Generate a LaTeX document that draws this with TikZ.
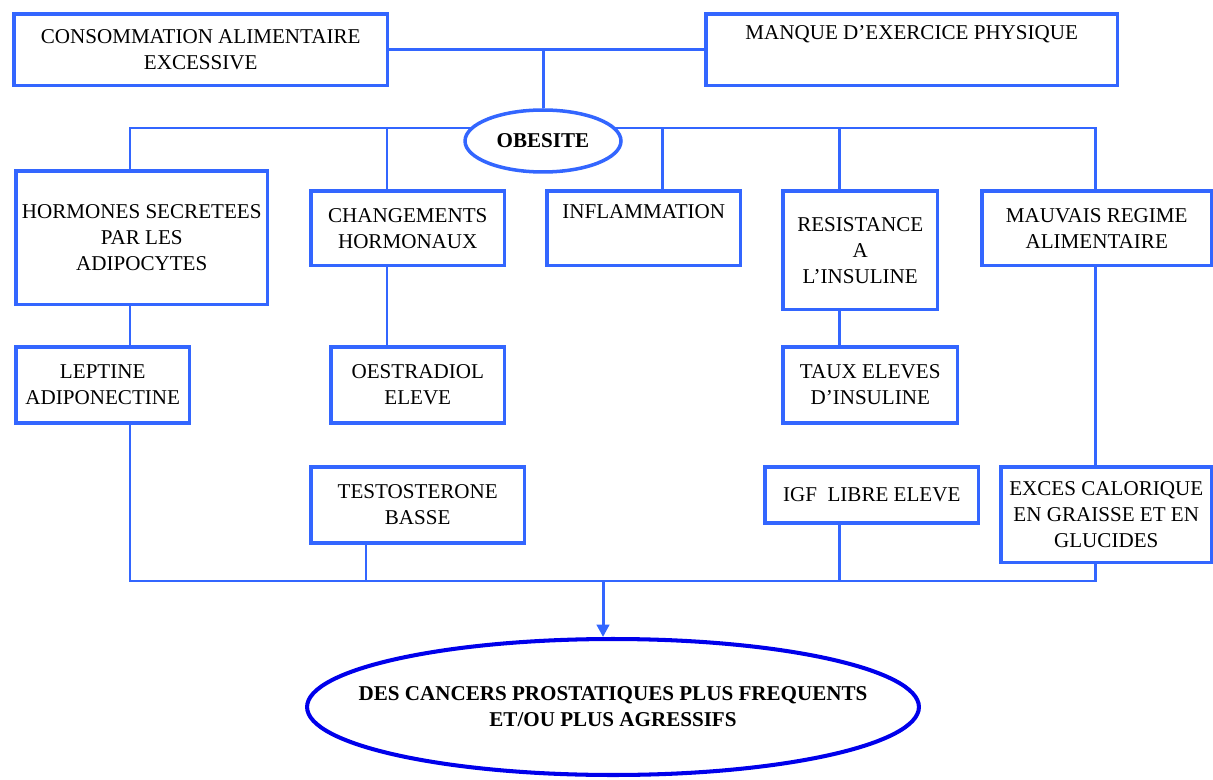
\documentclass[tikz,border=0pt]{standalone}
\usepackage{fontspec}
\setmainfont{Liberation Serif}
\usetikzlibrary{shapes.geometric,arrows.meta}
\definecolor{boxblue}{RGB}{51,102,255}
\definecolor{deepblue}{RGB}{0,0,235}
\tikzset{
  box/.style={draw=boxblue, line width=2pt, anchor=north west, align=center,
    inner sep=0.5pt, font=\fontsize{12}{14.8}\selectfont},
  oval/.style={ellipse, draw=boxblue, line width=2pt, fill=white, inner sep=0pt,
    align=center, font=\fontsize{12}{14.8}\selectfont\bfseries},
  link/.style={draw=boxblue, line width=1.7pt},
}
\begin{document}
\begin{tikzpicture}[x=0.02cm, y=-0.02cm]
  \useasboundingbox (0,0) rectangle (1213,780);
  \node[box, minimum width=7.48cm, minimum height=1.44cm] (cons) at (12,12)
    {CONSOMMATION ALIMENTAIRE\\EXCESSIVE};
  \node[box, minimum width=8.24cm, minimum height=1.44cm] (manque) at (704,12)
    {MANQUE D’EXERCICE PHYSIQUE\\\strut};
  \node[box, minimum width=5.04cm, minimum height=2.68cm] (hormones) at (14,169)
    {HORMONES SECRETEES\\PAR LES\\ADIPOCYTES};
  \node[box, minimum width=3.88cm, minimum height=1.5cm] (changements) at (309,189)
    {CHANGEMENTS\\HORMONAUX};
  \node[box, minimum width=3.88cm, minimum height=1.5cm] (inflammation) at (545,189)
    {INFLAMMATION\\\strut};
  \node[box, minimum width=3.1cm, minimum height=2.38cm] (resistance) at (781,189)
    {RESISTANCE\\A\\L’INSULINE};
  \node[box, minimum width=4.6cm, minimum height=1.5cm] (mauvais) at (980,189)
    {MAUVAIS REGIME\\ALIMENTAIRE};
  \node[box, minimum width=3.48cm, minimum height=1.52cm] (leptine) at (14,345)
    {LEPTINE\\ADIPONECTINE};
  \node[box, minimum width=3.48cm, minimum height=1.52cm] (oestradiol) at (329,345)
    {OESTRADIOL\\ELEVE};
  \node[box, minimum width=3.5cm, minimum height=1.52cm] (taux) at (781,345)
    {TAUX ELEVES\\D’INSULINE};
  \node[box, minimum width=4.28cm, minimum height=1.52cm] (testosterone) at (309,465)
    {TESTOSTERONE\\BASSE};
  \node[box, minimum width=4.28cm, minimum height=1.12cm] (igf) at (763,465)
    {IGF~ LIBRE ELEVE};
  \node[box, minimum width=4.22cm, minimum height=1.92cm] (exces) at (999,465)
    {EXCES CALORIQUE\\EN GRAISSE ET EN\\GLUCIDES};
  \node[oval, draw=deepblue, line width=2.3pt, inner xsep=-0.87cm,
    minimum width=12.24cm, minimum height=2.72cm] (cancer) at (613,707)
    {DES CANCERS PROSTATIQUES PLUS FREQUENTS\\ET/OU PLUS AGRESSIFS};
  \coordinate (t1) at (130,128);
  \coordinate (t2) at (387,128);
  \coordinate (t3) at (662,128);
  \coordinate (t4) at (839,128);
  \coordinate (t5) at (1095,128);
  \coordinate (b1) at (130,581);
  \coordinate (b2) at (366,581);
  \coordinate (b3) at (603,581);
  \coordinate (b4) at (839,581);
  \coordinate (b5) at (1095,581);
  \draw[link] (t1 |- hormones.north) -- (t1) -- (t5) -- (t5 |- mauvais.north);
  \node[oval, minimum width=3.12cm, minimum height=1.24cm] (obesite) at (543,141) {OBESITE};
  \begin{scope}[link]
    \draw (cons.east) to (manque.west);
    \draw (obesite.north) to (obesite.north |- cons.east);
    \draw (t2) to (t2 |- changements.north);
    \draw (t3) to (t3 |- inflammation.north);
    \draw (t4) to (t4 |- resistance.north);
    \draw (t1 |- hormones.south) to (t1 |- leptine.north);
    \draw (t2 |- changements.south) to (t2 |- oestradiol.north);
    \draw (t4 |- resistance.south) to (t4 |- taux.north);
    \draw (t5 |- mauvais.south) to (t5 |- exces.north);
    \draw (t1 |- leptine.south) -- (b1) -- (b5) -- (t5 |- exces.south);
    \draw (b2 |- testosterone.south) to (b2);
    \draw (t4 |- igf.south) to (b4);
    \draw[-{Triangle[length=7pt,width=7pt]}] (b3) to (b3 |- cancer.north);
  \end{scope}
\end{tikzpicture}
\end{document}
